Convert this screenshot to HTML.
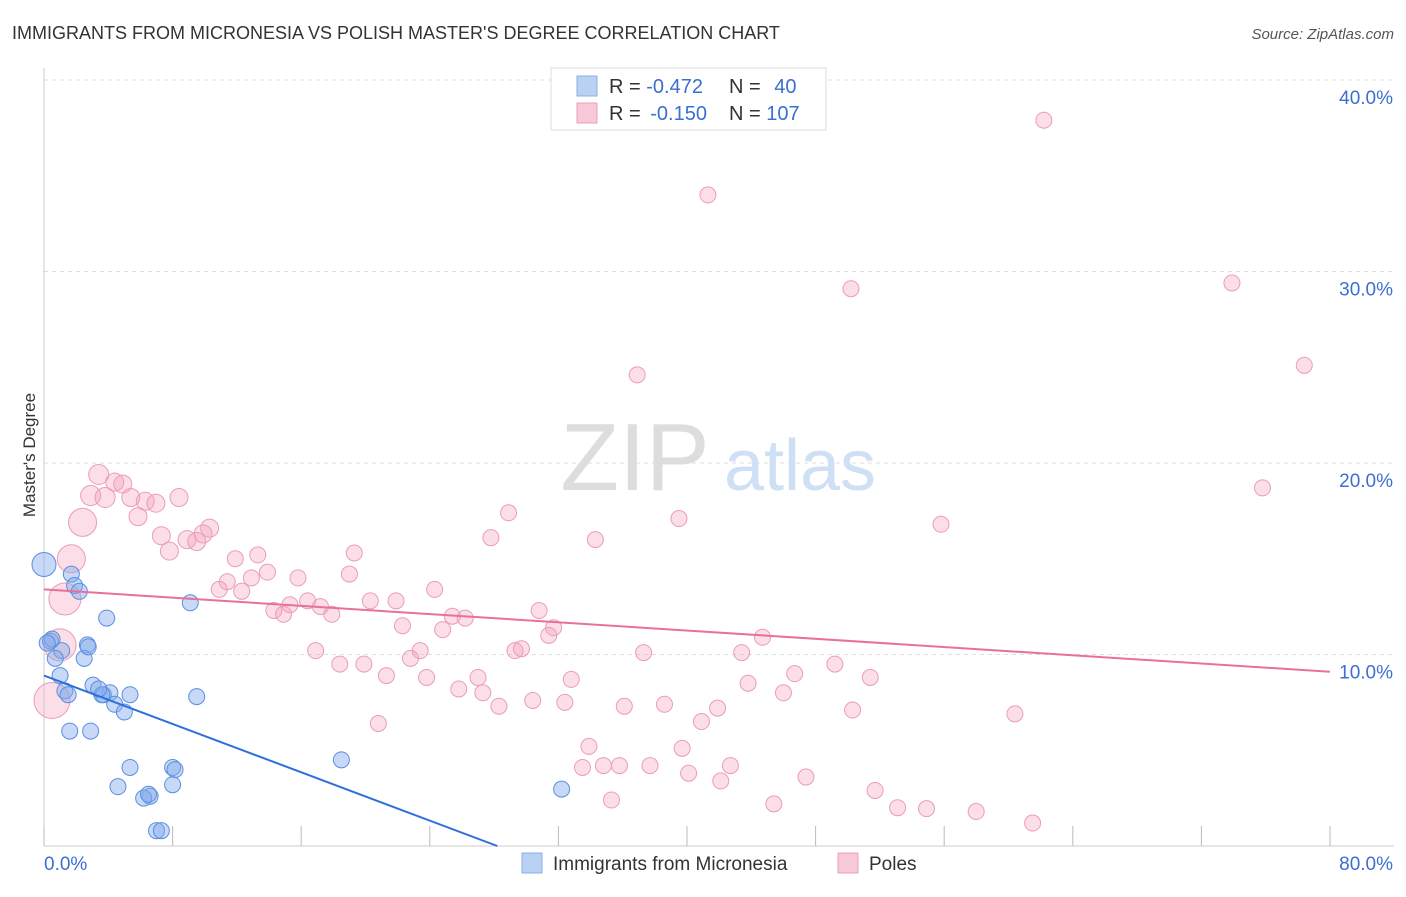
<!DOCTYPE html>
<html><head><meta charset="utf-8"><style>
body{margin:0;background:#fff;font-family:"Liberation Sans",sans-serif;}
svg text{font-family:"Liberation Sans",sans-serif;}
</style></head><body>
<svg id="c" width="1406" height="892">
<text x="12" y="39" font-size="18" fill="#333">IMMIGRANTS FROM MICRONESIA VS POLISH MASTER'S DEGREE CORRELATION CHART</text>
<text x="1394" y="39" font-size="15" fill="#555" text-anchor="end" font-style="italic">Source: ZipAtlas.com</text>
<text x="35" y="455" font-size="17" fill="#333" text-anchor="middle" transform="rotate(-90 35 455)">Master's Degree</text>
<g id="grid"></g>
<g><text x="635" y="490" font-size="96" fill="#ddd" font-family="Liberation Serif" text-anchor="middle">ZIP</text><text x="800" y="490" font-size="72" fill="#cfe0f5" text-anchor="middle">atlas</text></g>
<g id="pts"></g>
<g id="lines"></g>
<g>
<rect x="551" y="68" width="275" height="62" fill="#fff" stroke="#ddd"/>
<rect x="577" y="76" width="20" height="20" fill="#b9d1f3" stroke="#8ab0e8"/>
<rect x="577" y="103" width="20" height="20" fill="#f8c9d8" stroke="#ee9fba"/>
<text x="609" y="93" font-size="20" fill="#333">R = <tspan fill="#3b6fd1">-0.472</tspan></text>
<text x="729" y="93" font-size="20" fill="#333">N = <tspan fill="#3b6fd1" dx="8">40</tspan></text>
<text x="609" y="120" font-size="20" fill="#333">R = <tspan fill="#3b6fd1" dx="4">-0.150</tspan></text>
<text x="729" y="120" font-size="20" fill="#333">N = <tspan fill="#3b6fd1">107</tspan></text>
</g>
<g>
<rect x="522" y="853" width="20" height="20" fill="#b9d1f3" stroke="#8ab0e8"/>
<text x="553" y="870" font-size="19" fill="#333">Immigrants from Micronesia</text>
<rect x="838" y="853" width="20" height="20" fill="#f8c9d8" stroke="#ee9fba"/>
<text x="869" y="870" font-size="19" fill="#333">Poles</text>
</g>
</svg>
<script>
const yTicks=[10,20,30,40];
const xTickLabels=["0.0%","80.0%"];
const blueX=[0,1.7,1.9,2.2,3.9,9.1,0.4,1.1,2.7,2.5,0.7,1.0,1.3,1.5,3.05,3.7,4.1,4.4,5.0,3.6,3.4,5.35,2.9,1.6,5.35,8.0,8.15,4.6,8.0,6.6,6.2,6.5,9.5,18.5,32.2,7.0,7.3,0.5,2.75,0.2];
const blueY=[14.7,14.2,13.6,13.3,11.9,12.7,10.7,10.2,10.5,9.8,9.8,8.9,8.1,7.9,8.4,7.9,8.0,7.4,7.0,7.9,8.2,7.9,6.0,6.0,4.1,4.1,3.99,3.1,3.2,2.6,2.5,2.7,7.8,4.5,2.97,0.8,0.8,10.8,10.4,10.6];
const blueR=[12,8,8,8,8,8,8,8,8,8,8,8,8,8,8,8,8,8,8,8,8,8,8,8,8,8,8,8,8,8,8,8,8,8,8,8,8,8,8,8];
const pinkX=[62.2,41.3,50.2,73.9,78.4,36.9,75.8,55.8,39.5,28.9,34.3,27.8,3.4,4.4,4.9,2.9,3.8,5.4,8.4,6.3,6.96,5.85,2.4,10.3,9.9,7.3,8.9,9.5,1.7,7.8,11.9,13.3,19.3,13.9,15.8,19.0,12.9,11.4,10.9,12.3,24.3,1.3,20.3,21.9,15.3,16.4,14.3,17.2,14.9,17.9,25.4,26.2,30.8,22.3,24.8,31.7,31.4,44.7,1.0,23.4,16.9,29.3,29.7,37.3,43.4,22.8,19.9,18.4,49.2,27.0,21.3,23.8,32.8,46.7,51.4,43.8,0.5,27.3,25.8,46.0,30.4,32.4,28.3,36.1,38.6,41.9,50.3,60.4,20.8,40.9,33.9,39.7,34.8,33.5,35.8,37.7,42.7,40.1,47.4,42.1,51.7,35.3,45.4,53.1,54.9,57.99,61.5];
const pinkY=[37.9,34.0,29.1,29.4,25.1,24.6,18.7,16.8,17.1,17.4,16.0,16.1,19.4,19.0,18.9,18.3,18.2,18.2,18.2,18.0,17.9,17.2,16.9,16.6,16.3,16.2,16.0,15.9,15.0,15.4,15.0,15.2,15.3,14.3,14.0,14.2,14.0,13.8,13.4,13.3,13.4,12.9,12.8,12.8,12.6,12.8,12.3,12.5,12.1,12.1,12.0,11.9,12.3,11.5,11.3,11.4,11.0,10.9,10.5,10.2,10.2,10.2,10.3,10.1,10.1,9.8,9.5,9.5,9.5,8.8,8.9,8.8,8.7,9.0,8.8,8.5,7.6,8.0,8.2,8.0,7.6,7.5,7.3,7.3,7.4,7.2,7.1,6.9,6.4,6.5,5.2,5.1,4.2,4.1,4.2,4.2,4.2,3.8,3.6,3.4,2.9,2.4,2.2,2.0,1.95,1.8,1.2];
const pinkR=[8,8,8,8,8,8,8,8,8,8,8,8,10,9,9,10,10,9,9,9,9,9,14,9,9,9,9,9,14,9,8,8,8,8,8,8,8,8,8,8,8,16,8,8,8,8,8,8,8,8,8,8,8,8,8,8,8,8,16,8,8,8,8,8,8,8,8,8,8,8,8,8,8,8,8,8,18,8,8,8,8,8,8,8,8,8,8,8,8,8,8,8,8,8,8,8,8,8,8,8,8,8,8,8,8,8,8];
const blueLine=[[0,8.9],[28.2,0]];
const pinkLine=[[0,13.4],[80,9.1]];
const X0=44,X1=1330,Y0=846,PY=19.15;
const sx=v=>X0+(X1-X0)*v/80, sy=v=>Y0-PY*v;
const NS="http://www.w3.org/2000/svg";
const svg=document.getElementById('c');
function mk(tag,attrs,parent){const e=document.createElementNS(NS,tag);for(const k in attrs)e.setAttribute(k,attrs[k]);parent.appendChild(e);return e;}
const grid=document.getElementById('grid');
yTicks.forEach(t=>{
 const l=mk('line',{x1:X0,x2:1394,y1:sy(t),y2:sy(t),stroke:'#ddd','stroke-dasharray':'4,4'},grid);
 
 
 const tx=mk('text',{x:1393,y:sy(t)+24,'font-size':19,fill:'#3b6fd1','text-anchor':'end'},grid);
 tx.textContent=t.toFixed(1)+'%';
 
 
});
mk('line',{x1:X0,x2:X0,y1:68,y2:Y0,stroke:'#ccc'},grid);
const ax=mk('line',{x1:X0,x2:1394,y1:Y0,y2:Y0,stroke:'#ccc'},grid);


for(let i=0;i<=10;i++){mk('line',{x1:sx(i*8),x2:sx(i*8),y1:Y0-20,y2:Y0,stroke:'#bbb'},grid);}
const xl=mk('text',{x:X0,y:870,'font-size':19,fill:'#3b6fd1'},grid);xl.textContent=xTickLabels[0];


const xr=mk('text',{x:1393,y:870,'font-size':19,fill:'#3b6fd1','text-anchor':'end'},grid);xr.textContent=xTickLabels[1];


const pts=document.getElementById('pts');
pinkX.forEach((x,i)=>{const c=mk('circle',{cx:sx(x),cy:sy(pinkY[i]),r:pinkR[i],fill:'rgba(244,160,190,0.35)',stroke:'#ec9cb8','stroke-width':1},pts);
 
 });
blueX.forEach((x,i)=>{const c=mk('circle',{cx:sx(x),cy:sy(blueY[i]),r:blueR[i],fill:'rgba(130,170,235,0.45)',stroke:'#5b8fe0','stroke-width':1},pts);
 
 });
const lines=document.getElementById('lines');
const bl=mk('line',{x1:sx(blueLine[0][0]),y1:sy(blueLine[0][1]),x2:sx(blueLine[1][0]),y2:sy(blueLine[1][1]),stroke:'#2f6fdc','stroke-width':2},lines);


const pl=mk('line',{x1:sx(pinkLine[0][0]),y1:sy(pinkLine[0][1]),x2:sx(pinkLine[1][0]),y2:sy(pinkLine[1][1]),stroke:'#e8709a','stroke-width':2},lines);


</script>
</body></html>
